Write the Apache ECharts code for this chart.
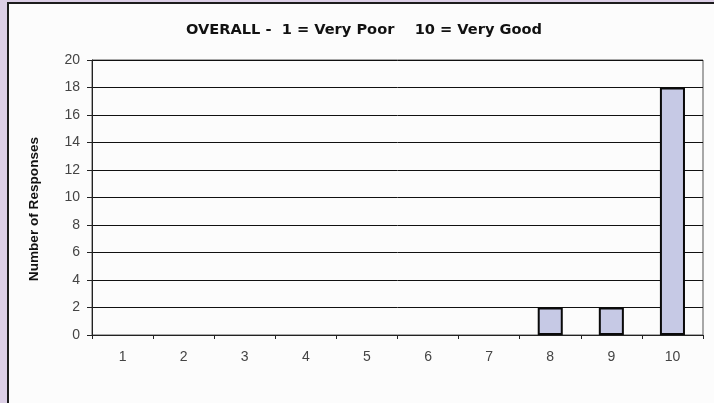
<!DOCTYPE html>
<html>
<head>
<meta charset="utf-8">
<script src="https://cdn.jsdelivr.net/npm/echarts@6/dist/echarts.min.js"></script>
<style>
html,body{margin:0;padding:0;background:#dccfe6;}
#c{width:714px;height:403px;}
</style>
</head>
<body>
<div id="c"></div>
<script>
const titleText = 'OVERALL -  1 = Very Poor    10 = Very Good';
const yAxisTitle = 'Number of Responses';
const categories = ['1','2','3','4','5','6','7','8','9','10'];
const responses = [0,0,0,0,0,0,0,2,2,18];

const chart = echarts.init(document.getElementById('c'), null, {renderer:'canvas'});
chart.setOption({
  backgroundColor: '#dccfe6',
  animation: false,
  graphic: [
    {type:'rect', z:-10, shape:{x:8,y:3,width:720,height:430}, style:{fill:'#fcfcfc', stroke:'#1c1c1c', lineWidth:2}},
    {type:'text', x:364, y:30, style:{text:titleText, font:'bold 14.6px "DejaVu Sans"', fill:'#111', align:'center', verticalAlign:'middle'}},
    {type:'text', x:34, y:209, rotation:Math.PI/2, style:{text:yAxisTitle, font:'bold 13.6px "Liberation Sans"', fill:'#111', align:'center', verticalAlign:'middle'}}
  ],
  grid: {left:92, top:60, right:11, bottom:68, show:true, borderColor:'#555', borderWidth:1, backgroundColor:'transparent'},
  xAxis: {
    type:'category', data:categories,
    axisLine:{lineStyle:{color:'#222', width:1}},
    axisTick:{show:true, length:4, lineStyle:{color:'#222'}},
    axisLabel:{color:'#444', fontSize:14, fontFamily:'Liberation Sans', margin:15}
  },
  yAxis: {
    type:'value', min:0, max:20, interval:2,
    axisLine:{show:true, lineStyle:{color:'#222', width:1}},
    axisTick:{show:true, length:5, lineStyle:{color:'#222'}},
    axisLabel:{color:'#444', fontSize:14, fontFamily:'Liberation Sans', margin:12},
    splitLine:{lineStyle:{color:'#111', width:1}}
  },
  series: [{
    type:'bar', barWidth:'41%',
    data: responses.map(v => v === 0 ? {value:v, itemStyle:{borderWidth:0, opacity:0}} : v),
    itemStyle:{color:'#c6c9e5', borderColor:'#0a0a0a', borderWidth:2}
  }]
});
</script>
</body>
</html>
